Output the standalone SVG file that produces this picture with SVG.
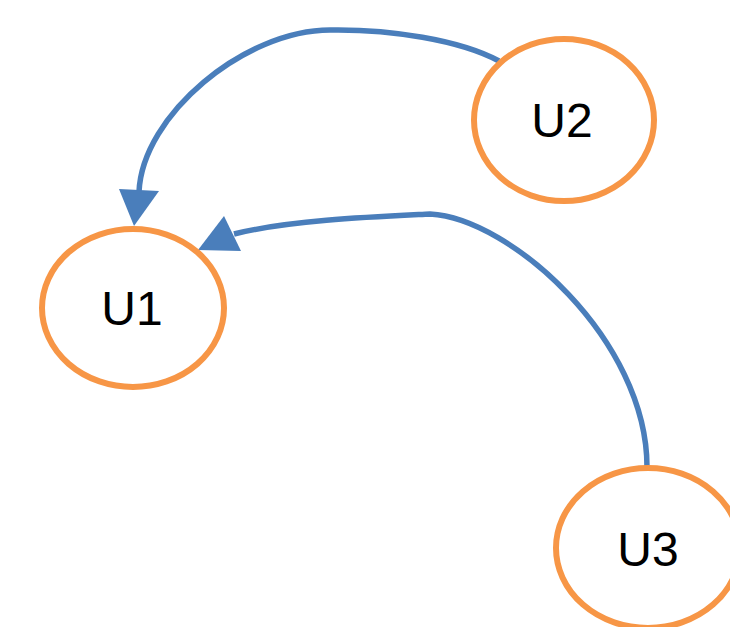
<svg xmlns="http://www.w3.org/2000/svg" width="730" height="627" viewBox="0 0 730 627">
<style>
.node ellipse{fill:#FFFFFF;stroke:#F79646;stroke-width:6}
.node text{font-family:"Liberation Sans","Open Sans",Arial,sans-serif;font-size:48px;fill:#000000;text-anchor:middle}
.edge{fill:none;stroke:#4A7EBB;stroke-width:5.5}
.head{fill:#4A7EBB;stroke:none}
</style>
<rect width="730" height="627" fill="#FFFFFF"/>
<g id="connectors">
<path class="edge" d="M499,61 C460,40 390,29 330,30 C245,30 142,115 139,192"/>
<polygon class="head" points="134,226 119,189 159,191"/>
<path class="edge" d="M647,467 C647,340 510,218 430,214 C380,216.5 290,220 234,234"/>
<polygon class="head" points="198,250 224,216 241,251"/>
</g>
<g id="U1" class="node">
<ellipse cx="133" cy="308" rx="91" ry="79"/>
<text x="132" y="325">U1</text>
</g>
<g id="U2" class="node">
<ellipse cx="564" cy="120" rx="90" ry="81"/>
<text x="562" y="137">U2</text>
</g>
<g id="U3" class="node">
<ellipse cx="648" cy="548" rx="92" ry="80"/>
<text x="648" y="566">U3</text>
</g>
</svg>
